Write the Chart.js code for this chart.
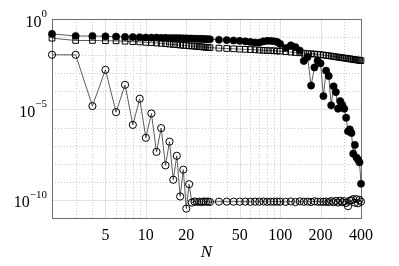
<!DOCTYPE html>
<html>
<head>
<meta charset="utf-8">
<script src="https://cdn.jsdelivr.net/npm/chart.js@4.4.1/dist/chart.umd.min.js"></script>
<style>
html,body{margin:0;padding:0;background:#fff;}
#wrap{width:399px;height:266px;}
</style>
</head>
<body>
<div id="wrap"><canvas id="c" width="399" height="266"></canvas></div>
<script>
// ---- data ----
const N = [2,3,4,5,6,7,8,9,10,11,12,13,14,15,16,17,18,19,20,21,22,23,24,25,26,27,28,29,30,
  35,40,45,50,55,60,65,70,75,80,85,90,95,100,
  110,120,130,140,150,160,170,180,190,200,210,220,230,240,250,260,270,280,290,300,310,320,330,340,350,360,370,380,390,400];

const filledCircles = [1.5e-1,1.15e-1,1.15e-1,1.1e-1,1.07e-1,1.02e-1,1.0e-1,9.8e-2,9.5e-2,9.3e-2,9.3e-2,9.1e-2,9.1e-2,8.9e-2,8.9e-2,8.7e-2,8.7e-2,8.5e-2,8.5e-2,8.3e-2,8.3e-2,8.1e-2,8.1e-2,7.9e-2,7.9e-2,7.8e-2,7.8e-2,7.6e-2,7.6e-2,
  7.1e-2,6.8e-2,6.5e-2,6.2e-2,5.8e-2,5.4e-2,5.0e-2,5.0e-2,5.8e-2,6.2e-2,6.2e-2,5.9e-2,5.4e-2,4.2e-2,
  2.5e-2,3.5e-2,2.8e-2,1.8e-2,4.8e-3,7.9e-3,2.1e-4,2.1e-3,5.0e-3,3.5e-3,5.5e-5,1.4e-3,7.1e-4,1.7e-5,1.9e-4,9.1e-5,1.1e-5,2.9e-5,1.8e-5,1.1e-5,3.5e-6,6.2e-7,7.9e-7,5.0e-7,3.6e-8,1.1e-7,2.2e-8,1.7e-8,1.2e-8,7.8e-10];

const openSquares = [8.7e-2,6.5e-2,6.5e-2,6.3e-2,6.2e-2,5.9e-2,5.6e-2,5.4e-2,5.1e-2,4.9e-2,4.7e-2,4.5e-2,4.3e-2,4.1e-2,3.9e-2,3.8e-2,3.6e-2,3.5e-2,3.4e-2,3.3e-2,3.2e-2,3.2e-2,3.0e-2,2.95e-2,2.9e-2,2.8e-2,2.75e-2,2.7e-2,2.6e-2,
  2.45e-2,2.35e-2,2.25e-2,2.15e-2,2.1e-2,2.05e-2,2.0e-2,1.9e-2,1.85e-2,1.8e-2,1.78e-2,1.74e-2,1.7e-2,1.66e-2,
  1.58e-2,1.48e-2,1.41e-2,1.35e-2,1.29e-2,1.23e-2,1.2e-2,1.15e-2,1.12e-2,1.07e-2,1.02e-2,9.8e-3,9.3e-3,8.9e-3,8.5e-3,8.1e-3,7.8e-3,7.4e-3,7.2e-3,6.9e-3,6.8e-3,6.5e-3,6.3e-3,6.0e-3,5.9e-3,5.6e-3,5.5e-3,5.4e-3,5.2e-3,5.0e-3];

const openCircles = [1.05e-2,1.05e-2,1.55e-5,1.55e-3,7.1e-6,2.3e-4,1.4e-6,3.9e-5,2.7e-7,6.0e-6,4.5e-8,9.3e-7,8.1e-9,1.66e-7,1.3e-9,2.75e-8,1.55e-10,4.7e-9,3.3e-11,7.4e-10,7.1e-11,8.1e-11,7.8e-11,8.0e-11,7.6e-11,8.2e-11,7.9e-11,8.1e-11,7.7e-11,
  8.0e-11,8.0e-11,8.0e-11,8.0e-11,8.0e-11,7.9e-11,8.0e-11,8.0e-11,8.1e-11,7.9e-11,8.0e-11,8.0e-11,8.0e-11,8.0e-11,
  7.8e-11,8.2e-11,7.6e-11,8.3e-11,7.9e-11,8.0e-11,7.7e-11,8.4e-11,7.9e-11,8.0e-11,7.8e-11,8.1e-11,7.6e-11,8.6e-11,7.5e-11,8.8e-11,7.2e-11,9.0e-11,7.4e-11,8.5e-11,6.8e-11,4.5e-11,9.0e-11,9.6e-11,1.1e-10,7.0e-11,1.1e-10,6.5e-11,1.0e-10,8.0e-11];

// ---- ticks ----
const xTickLabels = [5,10,20,50,100,200,400];
const xMinorTicks = [3,4,6,7,8,9,30,40,60,70,80,90,300];
const yTickLabels = [0,-5,-10];           // exponents of labelled ticks
const yMinorExps = [-1,-2,-3,-4,-6,-7,-8,-9];

function pts(vals){ return N.map((n,i)=>({x:n,y:vals[i]})); }

const FONT = "'Liberation Serif','Times New Roman',serif";

const gridPlugin = {
  id:'gridBox',
  beforeDatasetsDraw(chart){
    const {ctx, chartArea:a, scales:{x,y}} = chart;
    ctx.save();
    ctx.lineWidth = 1;
    ctx.strokeStyle = '#c8c8c8';
    ctx.setLineDash([1,2]);
    xMinorTicks.forEach(v=>{const p=Math.round(x.getPixelForValue(v))+0.5;ctx.beginPath();ctx.moveTo(p,a.top);ctx.lineTo(p,a.bottom);ctx.stroke();});
    yMinorExps.forEach(e=>{const p=Math.round(y.getPixelForValue(Math.pow(10,e)))+0.5;ctx.beginPath();ctx.moveTo(a.left,p);ctx.lineTo(a.right,p);ctx.stroke();});
    ctx.setLineDash([]);
    ctx.strokeStyle = '#e2e2e2';
    xTickLabels.forEach(v=>{const p=Math.round(x.getPixelForValue(v))+0.5;ctx.beginPath();ctx.moveTo(p,a.top);ctx.lineTo(p,a.bottom);ctx.stroke();});
    yTickLabels.forEach(e=>{const p=Math.round(y.getPixelForValue(Math.pow(10,e)))+0.5;ctx.beginPath();ctx.moveTo(a.left,p);ctx.lineTo(a.right,p);ctx.stroke();});
    ctx.strokeStyle = '#6e6e6e';
    ctx.strokeRect(Math.round(a.left)+0.5, Math.round(a.top)+0.5, Math.round(a.right-a.left), Math.round(a.bottom-a.top));
    ctx.restore();
  },
  afterDraw(chart){
    const {ctx, chartArea:a, scales:{y}} = chart;
    ctx.save();
    ctx.fillStyle = '#000';
    ctx.textBaseline = 'middle';
    ctx.textAlign = 'right';
    const right = a.left - 5;
    yTickLabels.forEach(e=>{
      const p = y.getPixelForValue(Math.pow(10,e));
      const sup = e===0 ? '0' : '\u2212' + String(-e);
      ctx.font = "11px " + FONT;
      const w = ctx.measureText(sup).width;
      ctx.fillText(sup, right, p - 5);
      ctx.font = "16px " + FONT;
      ctx.fillText('10', right - w, p + 3.3);
    });
    ctx.restore();
  }
};

new Chart(document.getElementById('c'), {
  type:'scatter',
  data:{
    datasets:[
      {label:'filled', data:pts(filledCircles), showLine:true, order:3,
       borderColor:'#333', borderWidth:0.8, pointStyle:'circle', pointRadius:3.6,
       pointBackgroundColor:'#000', pointBorderColor:'#000', pointBorderWidth:0.6, clip:false},
      {label:'squares', data:pts(openSquares), showLine:true, order:2,
       borderColor:'#333', borderWidth:0.8, pointStyle:'rect', pointRadius:4.0,
       pointBackgroundColor:'rgba(0,0,0,0)', pointBorderColor:'#000', pointBorderWidth:1, clip:false},
      {label:'open', data:pts(openCircles), showLine:true, order:1,
       borderColor:'#333', borderWidth:0.8, pointStyle:'circle', pointRadius:3.6,
       pointBackgroundColor:'rgba(0,0,0,0)', pointBorderColor:'#000', pointBorderWidth:1, clip:false}
    ]
  },
  options:{
    responsive:false, animation:false, devicePixelRatio:1,
    layout:{padding:{top:19, right:38, left:0, bottom:0}},
    plugins:{legend:{display:false}, tooltip:{enabled:false}},
    scales:{
      x:{type:'logarithmic', min:2, max:400,
         grid:{display:false, drawTicks:false}, border:{display:false},
         afterBuildTicks(s){ s.ticks = xTickLabels.map(v=>({value:v})); },
         afterFit(s){ s.height = 48; },
         ticks:{autoSkip:false, maxRotation:0, padding:8, color:'#000',
                font:{family:FONT, size:16}, callback:(v)=>String(v)},
         title:{display:true, text:'N', color:'#000', padding:{top:0,bottom:3},
                font:{family:FONT, size:17, style:'italic'}}
      },
      y:{type:'logarithmic', min:1e-11, max:1,
         grid:{display:false, drawTicks:false}, border:{display:false},
         ticks:{display:false},
         afterFit(s){ s.width = 52; }
      }
    }
  },
  plugins:[gridPlugin]
});
</script>
</body>
</html>
